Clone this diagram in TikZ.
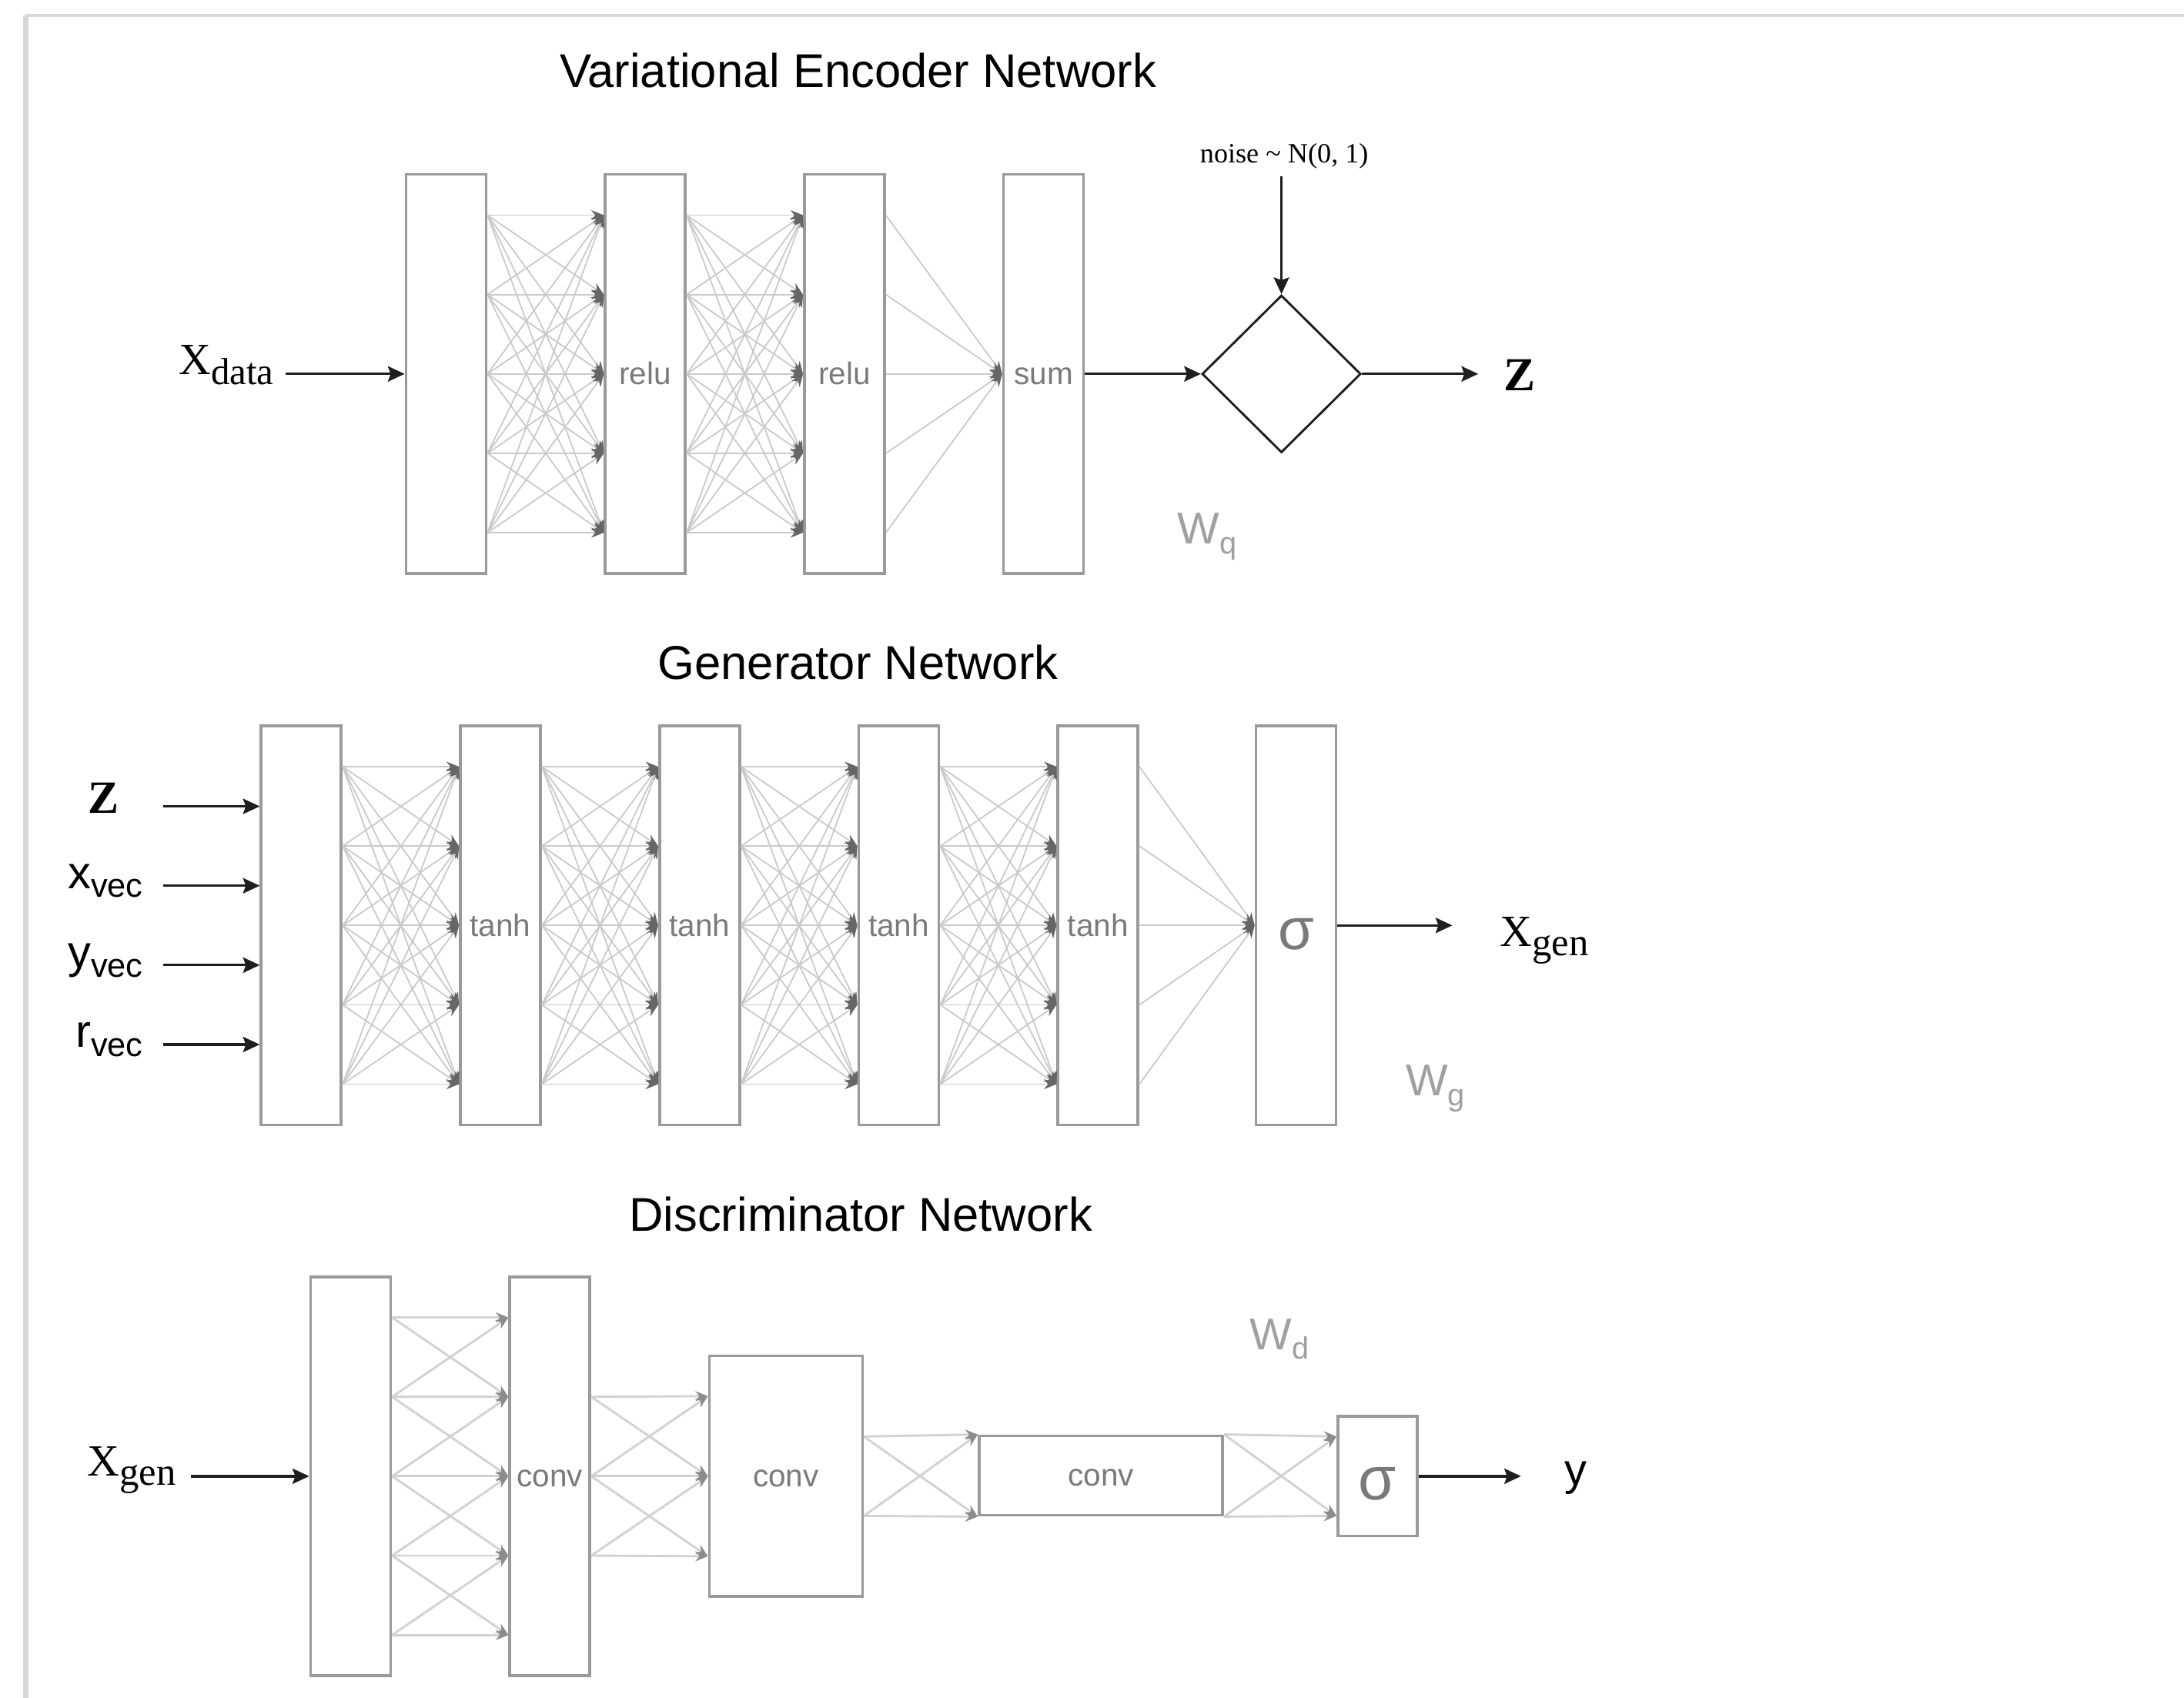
\documentclass[tikz,border=0pt]{standalone}
\usepackage{fontspec}
\setmainfont{Liberation Serif}
\setsansfont{Liberation Sans}
\usetikzlibrary{arrows.meta,calc,shapes.geometric}

\definecolor{boxgray}{HTML}{9A9A9A}
\definecolor{wiregray}{HTML}{CACACA}
\definecolor{tipgray}{HTML}{666666}
\definecolor{dwire}{HTML}{D2D2D2}
\definecolor{dtip}{HTML}{8C8C8C}
\definecolor{labgray}{HTML}{7A7A7A}
\definecolor{wgray}{HTML}{A0A0A0}
\definecolor{ink}{HTML}{1E1E1E}
\definecolor{framegray}{HTML}{D8D8D8}

% lowered subscript of the weight labels
\newcommand{\wsub}[1]{\raisebox{-3.5pt}{\fontsize{11}{12}\selectfont #1}}

\begin{document}
\begin{tikzpicture}[x=0.5pt,y=-0.5pt,
  layer/.style={draw=boxgray,line width=1pt,fill=white,inner sep=0pt,
                minimum width=28.75pt,minimum height=143.25pt},
  act/.style={font=\fontsize{11.2}{12}\sffamily,text=labgray,
              text height=7.6pt,text depth=0pt},
  sig/.style={font=\fontsize{21}{24}\sffamily,text=labgray,
              text height=17pt,text depth=0pt},
  conn/.style={draw=wiregray,line width=0.5pt,
               -{Stealth[length=4.5pt,width=3.6pt,color=tipgray]}},
  dconn/.style={draw=dwire,line width=0.8pt,
               -{Stealth[length=4.5pt,width=3.6pt,color=dtip]}},
  flow/.style={draw=ink,line width=0.9pt,
               -{Stealth[length=6pt,width=5.5pt,inset=1pt]}},
  title/.style={font=\fontsize{17}{20}\sffamily,anchor=base,inner sep=0pt},
  wlab/.style={font=\fontsize{16}{18}\sffamily,text=wgray,anchor=base west,inner sep=0pt},
  io/.style={font=\fontsize{16}{18}\selectfont,anchor=base west,inner sep=0pt},
  iosans/.style={font=\fontsize{16.5}{18}\sffamily,anchor=base east,inner sep=0pt},
]
\useasboundingbox (0,0) rectangle (1568,1219);

% page frame
\draw[framegray,line width=1.2pt] (18,11) -- (1568,11);
\draw[framegray,line width=2pt] (18.5,11) -- (18.5,1219);

% ---------------- titles ----------------
\node[title] (t1) at (616,63) {Variational Encoder Network};
\node[title] (t2) at (616,488) {Generator Network};
\node[title] (t3) at (618,884) {Discriminator Network};

% ---------------- encoder ----------------
\node[layer] (e1) at (320.25,268.5) {};
\node[layer,act] (e2) at (463.25,268.5) {relu};
\node[layer,act] (e3) at (606.25,268.5) {relu};
\node[layer,act] (e4) at (749.25,268.5) {sum};

\node[diamond,draw=ink,line width=0.8pt,inner sep=0pt,aspect=1,
      minimum width=57pt,minimum height=56.5pt] (dia) at (920,268.5) {};
\node[font=\fontsize{10}{12}\selectfont,anchor=base,inner sep=0pt] (noise)
      at (922,117) {noise \textasciitilde{} N(0, 1)};
\node[font=\fontsize{17}{20}\bfseries,inner sep=0pt] (zout) at (1091,269.5) {Z};
\node[io] (xdata) at (128,269) {X\raisebox{-3.5pt}{\fontsize{13.5}{14}\selectfont data}};
\node[wlab] (wq) at (845,390.7) {W\wsub{q}};

% ---------------- generator ----------------
\node[layer] (g1) at (216.25,664.5) {};
\node[layer,act] (g2) at (359.25,664.5) {tanh};
\node[layer,act] (g3) at (502.25,664.5) {tanh};
\node[layer,act] (g4) at (645.25,664.5) {tanh};
\node[layer,act] (g5) at (788.25,664.5) {tanh};
\node[layer,sig] (g6) at (930.5,664.5) {σ};

\node[font=\fontsize{16.6}{20}\bfseries,anchor=base,inner sep=0pt] (zin) at (74.5,584) {Z};
\node[iosans] (xvec) at (103,638) {x\raisebox{-3.2pt}{\fontsize{12}{12}\selectfont vec}};
\node[iosans] (yvec) at (103,695) {y\raisebox{-3.2pt}{\fontsize{12}{12}\selectfont vec}};
\node[iosans] (rvec) at (103,752) {r\raisebox{-3.2pt}{\fontsize{12}{12}\selectfont vec}};
\node[io] (xgen) at (1076.7,679.5) {X\raisebox{-3.2pt}{\fontsize{14}{14}\selectfont gen}};
\node[wlab] (wg) at (1009,787) {W\wsub{g}};

% ---------------- discriminator ----------------
\node[layer] (d1) at (251.75,1060) {};
\node[layer,act] (d2) at (394.75,1060) {conv};
\node[layer,act,minimum width=55pt,minimum height=86.4pt] (d3) at (564.25,1060) {conv};
\node[layer,act,minimum width=87.4pt,minimum height=28.5pt] (d4) at (790.4,1059.5) {conv};
\node[layer,sig,minimum width=28.5pt,minimum height=43pt,
      font=\fontsize{22}{24}\sffamily,text height=16.7pt] (d5) at (989,1060) {σ};

\node[io] (xgend) at (62.5,1060) {X\raisebox{-3.2pt}{\fontsize{14}{14}\selectfont gen}};
\node[font=\fontsize{16}{18}\sffamily,anchor=base west,inner sep=0pt] (yout) at (1123,1066.6) {y};
\node[wlab] (wd) at (897,969) {W\wsub{d}};

% ---------------- ports on the layer edges ----------------
\foreach \bx in {e1,e2,e3,g1,g2,g3,g4,g5,d1,d2}
  \foreach \k in {1,...,5} {
    \coordinate (\bx o\k) at ($(\bx.east)+(0,{(\k-3)*57})$);
    \coordinate (\bx i\k) at ($(\bx.west)+(0,{(\k-3)*57})$);
  }
\foreach \k in {2,3,4}
  \coordinate (d3i\k) at ($(d3.west)+(0,{(\k-3)*57.5})$);
\coordinate (d3oa) at ($(d3.east)+(0,-28.5)$);
\coordinate (d3ob) at ($(d3.east)+(0,28.5)$);
\coordinate (d5ia) at ($(d5.west)+(0,-28.5)$);
\coordinate (d5ib) at ($(d5.west)+(0,28.5)$);
\foreach \k in {1,...,4}
  \coordinate (g1in\k) at ($(g1.west)+(0,{(\k-2.5)*57})$);

% ---------------- dense connections ----------------
\foreach \p/\q in {e1/e2,e2/e3,g1/g2,g2/g3,g3/g4,g4/g5}
  \foreach \i in {1,...,5}
    \foreach \j in {1,...,5}
      \draw[conn] (\p o\i) -- (\q i\j);
\foreach \i in {1,...,5} {
  \draw[conn] (e3o\i) -- (e4.west);
  \draw[conn] (g5o\i) -- (g6.west);
}

% ---------------- local (convolutional) connections ----------------
\foreach \i/\j in {1/1,1/2,2/1,2/2,2/3,3/2,3/3,3/4,4/3,4/4,4/5,5/4,5/5}
  \draw[dconn] (d1o\i) -- (d2i\j);
\foreach \i/\j in {2/2,2/3,3/2,3/3,3/4,4/3,4/4}
  \draw[dconn] (d2o\i) -- (d3i\j);
\foreach \s in {d3oa,d3ob} {
  \draw[dconn] (\s) -- (d4.north west);
  \draw[dconn] (\s) -- (d4.south west);
}
\foreach \t in {d5ia,d5ib} {
  \draw[dconn] (d4.north east) -- (\t);
  \draw[dconn] (d4.south east) -- (\t);
}

% ---------------- main data flow ----------------
\draw[flow,shorten <=4pt] (xdata.east |- e1.west) -- (e1.west);
\draw[flow] (e4.east) -- (dia.west);
\draw[flow,shorten <=2.4pt] (dia.north |- noise.south) -- (dia.north);
\draw[flow,shorten >=9pt] (dia.east) -- (zout.west |- dia.east);

\draw[flow,shorten <=15.7pt] (zin.east |- g1in1) -- (g1in1);
\draw[flow,shorten <=7.2pt] (xvec.east |- g1in2) -- (g1in2);
\draw[flow,shorten <=7.2pt] (yvec.east |- g1in3) -- (g1in3);
\draw[flow,shorten <=7.2pt] (rvec.east |- g1in4) -- (g1in4);
\draw[flow,shorten >=17pt] (g6.east) -- (xgen.west |- g6.east);

\draw[flow,shorten <=5pt] (xgend.east |- d1.west) -- (d1.west);
\draw[flow,shorten >=15.5pt] (d5.east) -- (yout.west |- d5.east);
\end{tikzpicture}
\end{document}
